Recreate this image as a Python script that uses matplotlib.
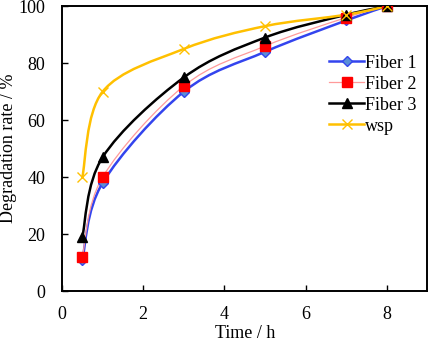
import matplotlib
matplotlib.use("Agg")
import matplotlib.pyplot as plt
from matplotlib.path import Path
from matplotlib.patches import PathPatch
from matplotlib.lines import Line2D

plt.rcParams['font.family'] = ['Liberation Serif', 'DejaVu Serif']
plt.rcParams['mathtext.fontset'] = 'stix'

time_h = [0.5, 1, 3, 5, 7, 8]
fiber1 = [11, 38, 70, 84, 95, 100]
fiber2 = [12, 40, 72, 86, 96, 100]
fiber3 = [19, 47, 75, 89, 97, 100]
wsp = [40, 70, 85, 93, 97, 100]


def smooth_path(xs, ys):
    # bezier like the excel "smoothed line"
    pts = list(zip(xs, ys))
    verts = [pts[0]]
    codes = [Path.MOVETO]
    n = len(pts)
    for i in range(n - 1):
        p0 = pts[i - 1] if i > 0 else pts[i]
        p1 = pts[i]
        p2 = pts[i + 1]
        p3 = pts[i + 2] if i + 2 < n else pts[i + 1]
        c1 = (p1[0] + (p2[0] - p0[0]) / 6, p1[1] + (p2[1] - p0[1]) / 6)
        c2 = (p2[0] - (p3[0] - p1[0]) / 6, p2[1] - (p3[1] - p1[1]) / 6)
        verts += [c1, c2, p2]
        codes += [Path.CURVE4] * 3
    return Path(verts, codes)


fig = plt.figure(figsize=(4.29, 3.43), dpi=100)
ax = fig.add_axes([0.1445, 0.151, 0.852, 0.831])

series = [
    ("Fiber 1", fiber1, dict(color='#3344ee', lw=1.8, marker='D', ms=5.5, mfc='#5b8fd6', mec='#3344ee')),
    ("Fiber 2", fiber2, dict(color='#ff9a9a', lw=0.9, marker='s', ms=6.5, mfc='#ff0000', mec='#ff0000')),
    ("Fiber 3", fiber3, dict(color='black', lw=1.8, marker='^', ms=7, mfc='black', mec='black')),
    ("wsp", wsp, dict(color='#ffc000', lw=1.8, marker='x', ms=7, mfc='#ffc000', mec='#ffc000')),
]

handles = []
for name, vals, st in series:
    ax.add_patch(PathPatch(smooth_path(time_h, vals), fill=False, edgecolor=st['color'],
                           lw=st['lw'], transform=ax.transData, zorder=2))
    ax.plot(time_h, vals, ls='none', marker=st['marker'], ms=st['ms'],
            mfc=st['mfc'], mec=st['mec'], mew=1.0, zorder=3)
    handles.append(Line2D([], [], color=st['color'], lw=st['lw'], marker=st['marker'],
                          ms=st['ms'], mfc=st['mfc'], mec=st['mec'], label=name))

ax.set_xlim(0, 9)
ax.set_ylim(0, 100)
ax.set_xticks([0, 2, 4, 6, 8])
ax.set_yticks([0, 20, 40, 60, 80, 100])
ax.tick_params(direction='in', labelsize=13, length=4, width=1, pad=11)
ax.tick_params(axis='y', pad=12)
for s in ax.spines.values():
    s.set_linewidth(1.4)
ax.set_xlabel("Time / h", fontsize=13, va='center')
ax.xaxis.set_label_coords(0.5, -0.15)
ax.set_ylabel("Degradation rate / %", fontsize=13, va='center')
ax.yaxis.set_label_coords(-0.146, 0.5)

ax.legend(handles=handles, loc='upper left', bbox_to_anchor=(0.712, 0.855), frameon=False,
          fontsize=13, handlelength=1.9, handletextpad=0.05, labelspacing=0.22, borderaxespad=0)

fig.savefig("out.png", dpi=100)
